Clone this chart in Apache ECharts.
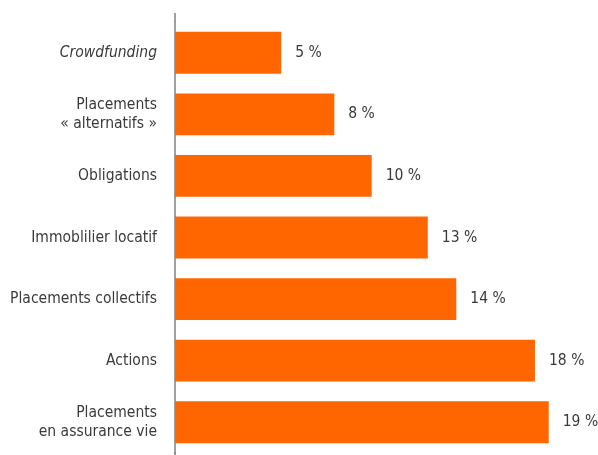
<!DOCTYPE html>
<html>
<head>
<meta charset="utf-8">
<script src="https://cdn.jsdelivr.net/npm/echarts@6/dist/echarts.min.js"></script>
<style>
html,body{margin:0;padding:0;background:#fff;}
#chart{width:598px;height:455px;}
</style>
</head>
<body>
<div id="chart"></div>
<script>
var categories = ['Crowdfunding', 'Placements\n« alternatifs »', 'Obligations', 'Immoblilier locatif', 'Placements collectifs', 'Actions', 'Placements\nen assurance vie'];
var values = [5.4, 8.1, 10.0, 12.85, 14.3, 18.3, 19.0];
var valueLabels = ['5 %', '8 %', '10 %', '13 %', '14 %', '18 %', '19 %'];
var italicCategories = ['Crowdfunding'];

var FONT = '"DejaVu Sans Condensed", "Liberation Sans Narrow", sans-serif';
var TEXT = '#3a3a3a';
var FS = 15.5;

var chart = echarts.init(document.getElementById('chart'), null, {renderer: 'canvas'});
chart.setOption({
  animation: false,
  backgroundColor: '#ffffff',
  grid: {left: 175, right: 29.6, top: 22, bottom: 2, containLabel: false, outerBoundsMode: 'none'},
  xAxis: {
    type: 'value', min: 0, max: 20, show: false
  },
  yAxis: {
    type: 'category',
    inverse: true,
    data: categories,
    axisLine: {show: true, lineStyle: {color: '#808080', width: 1.5}},
    axisTick: {show: false},
    axisLabel: {
      margin: 18,
      color: TEXT,
      fontFamily: FONT,
      fontSize: FS,
      lineHeight: 19,
      align: 'right',
      formatter: function (v) {
        return italicCategories.indexOf(v) >= 0 ? '{it|' + v + '}' : v;
      },
      rich: {
        it: {fontStyle: 'italic', color: TEXT, fontFamily: FONT, fontSize: FS, lineHeight: 19}
      }
    }
  },
  series: [{
    type: 'bar',
    data: values,
    barCategoryGap: '32%',
    itemStyle: {color: '#ff6600'},
    label: {
      show: true,
      position: 'right',
      distance: 14,
      color: TEXT,
      fontFamily: FONT,
      fontSize: FS,
      formatter: function (p) { return valueLabels[p.dataIndex]; }
    }
  }],
  graphic: [{
    type: 'line',
    shape: {x1: 175, y1: 13, x2: 175, y2: 22},
    style: {stroke: '#808080', lineWidth: 1.5}
  }, {
    type: 'line',
    shape: {x1: 175, y1: 452, x2: 175, y2: 455},
    style: {stroke: '#808080', lineWidth: 1.5}
  }]
});
</script>
</body>
</html>
